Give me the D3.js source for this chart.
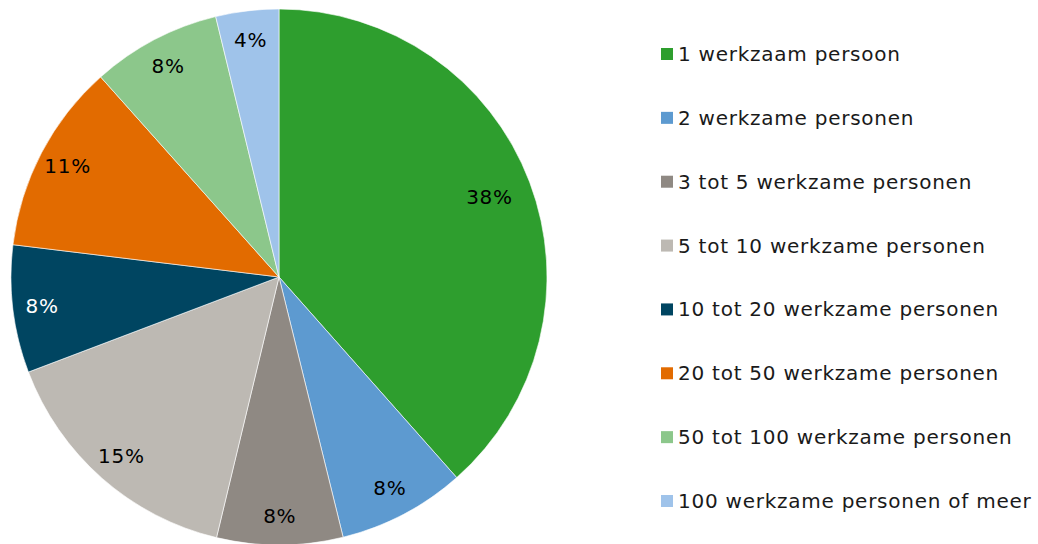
<!DOCTYPE html>
<html>
<head>
<meta charset="utf-8">
<script src="https://cdn.jsdelivr.net/npm/d3@7"></script>
<style>
  body { margin: 0; background: #fff; }
  text { font-family: Verdana, "DejaVu Sans", sans-serif; letter-spacing: 0.75px; }
</style>
</head>
<body>
<div id="chart"></div>
<script>
// categories, values (share in %), colours
var categories = [
    "1 werkzaam persoon",
    "2 werkzame personen",
    "3 tot 5 werkzame personen",
    "5 tot 10 werkzame personen",
    "10 tot 20 werkzame personen",
    "20 tot 50 werkzame personen",
    "50 tot 100 werkzame personen",
    "100 werkzame personen of meer"
];
var values = [38.5, 7.7, 7.6, 15.5, 7.7, 11.5, 7.8, 3.8];
var labels = ["38%", "8%", "8%", "15%", "8%", "11%", "8%", "4%"];
var colors = ["#2e9e2e", "#5d9ad0", "#8f8983", "#bdb9b3", "#004561", "#e26b00", "#8cc78b", "#9fc3ea"];
var labelColors = ["#000", "#000", "#000", "#000", "#fff", "#000", "#000", "#000"];

var width = 1038, height = 544;
var cx = 279, cy = 277, radius = 268;

var data = categories.map(function(c, i){
    return {cat: c, value: values[i], label: labels[i], color: colors[i], tc: labelColors[i]};
});

var svg = d3.select("#chart").append("svg")
    .attr("width", width)
    .attr("height", height);

var svg_g = svg.append("g")
    .attr("class", "mainchart")
    .attr("transform", "translate(" + cx + "," + cy + ")");

var pie = d3.pie()
    .sort(null)
    .value(d => d.value);

var arc = d3.arc()
    .innerRadius(0)
    .outerRadius(radius);

var labelArc = d3.arc()
    .innerRadius(radius * 0.89)
    .outerRadius(radius * 0.89);

var arcs = pie(data);

svg_g.selectAll("path.slice").data(arcs)
    .enter().append("path")
    .attr("class", "slice")
    .attr("d", arc)
    .attr("fill", d => d.data.color)
    .attr("stroke", "#fff")
    .attr("stroke-width", 0.6);

svg_g.selectAll("text.lbl").data(arcs)
    .enter().append("text")
    .attr("class", "lbl")
    .attr("transform", function(d){
        // biggest slice sits a bit closer in
        var c = d.index === 0 ? d3.arc().innerRadius(radius*0.84).outerRadius(radius*0.84).centroid(d) : labelArc.centroid(d);
        return "translate(" + c[0] + "," + c[1] + ")";
    })
    .attr("text-anchor", "middle")
    .attr("dy", "0.35em")
    .attr("font-size", "20px")
    .attr("fill", d => d.data.tc)
    .text(d => d.data.label);

// legend
var legendY = d3.scalePoint()
    .domain(categories)
    .range([54, 501]);

var legend = svg.selectAll("g.legend").data(data)
    .enter().append("g")
    .attr("class", "legend")
    .attr("transform", d => "translate(661," + legendY(d.cat) + ")");

legend.append("rect")
    .attr("x", 0)
    .attr("y", -6)
    .attr("width", 12)
    .attr("height", 12)
    .attr("fill", d => d.color);

legend.append("text")
    .attr("x", 17)
    .attr("dy", "0.35em")
    .attr("font-size", "20px")
    .attr("fill", "#1a1a1a")
    .text(d => d.cat);
</script>
</body>
</html>
